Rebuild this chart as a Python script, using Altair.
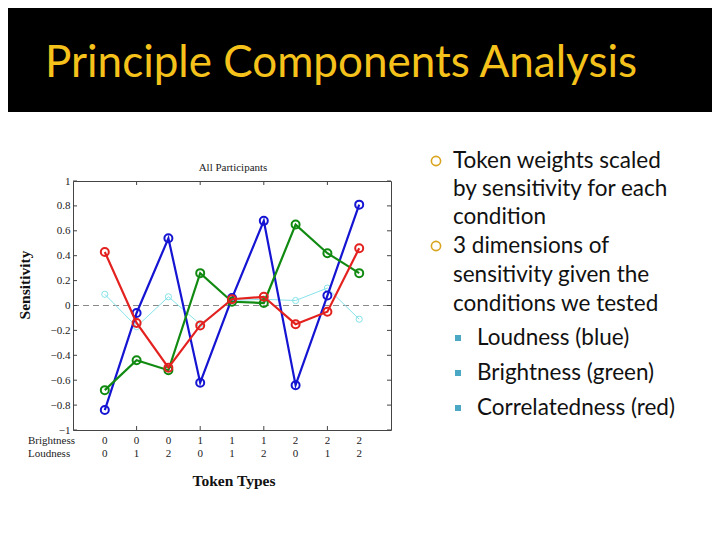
import altair as alt
import pandas as pd

# ---------------- data ----------------
token_idx = [0, 1, 2, 3, 4, 5, 6, 7, 8]
brightness = [0, 0, 0, 1, 1, 1, 2, 2, 2]
loudness = [0, 1, 2, 0, 1, 2, 0, 1, 2]

blue_vals = [-0.84, -0.06, 0.54, -0.62, 0.06, 0.68, -0.64, 0.08, 0.81]
green_vals = [-0.68, -0.44, -0.52, 0.26, 0.03, 0.02, 0.65, 0.42, 0.26]
red_vals = [0.43, -0.14, -0.50, -0.16, 0.05, 0.07, -0.15, -0.05, 0.46]
cyan_vals = [0.09, -0.17, 0.07, -0.15, 0.04, 0.05, 0.04, 0.14, -0.11]

y_tick_vals = [-1, -0.8, -0.6, -0.4, -0.2, 0, 0.2, 0.4, 0.6, 0.8, 1]
x_tick_vals = [1, 3, 5, 7]
zero_line = [0]

title_text = "Principle Components Analysis"
bullet1 = ["Token weights scaled", "by sensitivity for each", "condition"]
bullet2 = ["3 dimensions of", "sensitivity given the", "conditions we tested"]
sub_bullets = ["Loudness (blue)", "Brightness (green)", "Correlatedness (red)"]

# ---------------- layout (page pixels) ----------------
PX0, PY0 = 73, 181          # plot-area origin on the page
W, H = 318, 249             # plot area
SERIF = "Liberation Serif"
SANS = "Lato"

xs = alt.Scale(domain=[-1, 9], nice=False, zero=False)
ys = alt.Scale(domain=[-1, 1], nice=False, zero=False)
y_axis = alt.Axis(values=y_tick_vals, title=None, domain=False, ticks=False, grid=False,
                  labelFont=SERIF, labelFontSize=11, labelColor="#222", labelPadding=3,
                  labelExpr="format(datum.value, '~g')")


def X(field="i"):
    return alt.X(f"{field}:Q", scale=xs, axis=None)


def Y(field="v"):
    return alt.Y(f"{field}:Q", scale=ys, axis=y_axis)


def txt(s, px, py, size, **kw):
    return alt.Chart(pd.DataFrame({"t": [0]})).mark_text(text=s, fontSize=size, **kw).encode(
        x=alt.value(px - PX0), y=alt.value(py - PY0))


layers = []

# black header band
layers.append(
    alt.Chart(pd.DataFrame({"t": [0]})).mark_rect(color="black").encode(
        x=alt.value(-90), x2=alt.value(720), y=alt.value(-200), y2=alt.value(112 - PY0))
)
layers.append(txt(title_text, 45, 77, 44, font=SANS, color="#F5C21B", align="left", baseline="alphabetic"))

# zero dashed line
layers.append(
    alt.Chart(pd.DataFrame({"v": zero_line})).mark_rule(color="#8a8a8a", strokeDash=[6, 4], strokeWidth=1).encode(
        y=Y("v"), x=alt.value(0), x2=alt.value(W))
)

# inward ticks
ytk = pd.DataFrame({"v": y_tick_vals})
layers.append(alt.Chart(ytk).mark_rule(color="#444").encode(y=Y("v"), x=alt.value(0), x2=alt.value(4)))
layers.append(alt.Chart(ytk).mark_rule(color="#444").encode(y=Y("v"), x=alt.value(W - 4), x2=alt.value(W)))
xtk = pd.DataFrame({"i": x_tick_vals})
layers.append(alt.Chart(xtk).mark_rule(color="#444").encode(x=X("i"), y=alt.value(0), y2=alt.value(4)))
layers.append(alt.Chart(xtk).mark_rule(color="#444").encode(x=X("i"), y=alt.value(H - 4), y2=alt.value(H)))

# series
series = [
    (cyan_vals, "#86e3ea", 1.0, 38, 1.0),
    (blue_vals, "#1414d2", 2.2, 64, 2.0),
    (green_vals, "#118a11", 2.2, 64, 2.0),
    (red_vals, "#e3211f", 2.2, 64, 2.0),
]
for vals, col, lw, msize, mw in series:
    df = pd.DataFrame({"i": token_idx, "v": vals})
    base = alt.Chart(df)
    layers.append(base.mark_line(color=col, strokeWidth=lw).encode(x=X("i"), y=Y("v")))
    layers.append(base.mark_point(shape="circle", filled=False, color=col, size=msize, strokeWidth=mw,
                                  opacity=1).encode(x=X("i"), y=Y("v")))

# token-type rows
tok = pd.DataFrame({"i": token_idx, "b": brightness, "l": loudness})
layers.append(alt.Chart(tok).mark_text(font=SERIF, fontSize=11, color="#222").encode(
    x=X("i"), y=alt.value(441 - PY0), text="b:N"))
layers.append(alt.Chart(tok).mark_text(font=SERIF, fontSize=11, color="#222").encode(
    x=X("i"), y=alt.value(454 - PY0), text="l:N"))
layers.append(txt("Brightness", 28, 441, 11, font=SERIF, color="#222", align="left", baseline="middle"))
layers.append(txt("Loudness", 28, 454, 11, font=SERIF, color="#222", align="left", baseline="middle"))

# chart titles
layers.append(txt("All Participants", 233, 168, 11, font=SERIF, color="#222", align="center", baseline="middle"))
layers.append(txt("Token Types", 234, 481, 15.5, font=SERIF, fontWeight="bold", color="#111",
                  align="center", baseline="middle"))
layers.append(txt("Sensitivity", 25, 285, 15.5, font=SERIF, fontWeight="bold", color="#111",
                  align="center", baseline="middle", angle=270))

# right-hand bullet text
BODY = 22.5
for lines, ys_ in ((bullet1, [161, 189, 217]), (bullet2, [246, 275, 304])):
    layers.append(
        alt.Chart(pd.DataFrame({"t": [0]})).mark_point(shape="circle", filled=False, color="#d9a521",
                                                       size=85, strokeWidth=1.6, opacity=1).encode(
            x=alt.value(436 - PX0), y=alt.value(ys_[0] - PY0))
    )
    for s, yy in zip(lines, ys_):
        layers.append(txt(s, 453, yy, BODY, font=SANS, color="#111", align="left", baseline="middle"))

for s, yy in zip(sub_bullets, [338, 373, 408]):
    layers.append(
        alt.Chart(pd.DataFrame({"t": [0]})).mark_point(shape="square", filled=True, color="#4aa8c4",
                                                       size=36, opacity=1).encode(
            x=alt.value(458 - PX0), y=alt.value(yy - PY0))
    )
    layers.append(txt(s, 477, yy, 22.5, font=SANS, color="#111", align="left", baseline="middle"))

chart = alt.layer(*layers).properties(
    width=W, height=H,
    autosize=alt.AutoSizeParams(type="none"),
    padding={"left": PX0 - 8, "top": PY0 - 8, "right": 704 - (PX0 - 8) - W, "bottom": 524 - (PY0 - 8) - H},
    background="white",
).configure_view(stroke="#444", strokeWidth=1)

chart.save("out.html", embed_options={"renderer": "svg", "actions": False})
